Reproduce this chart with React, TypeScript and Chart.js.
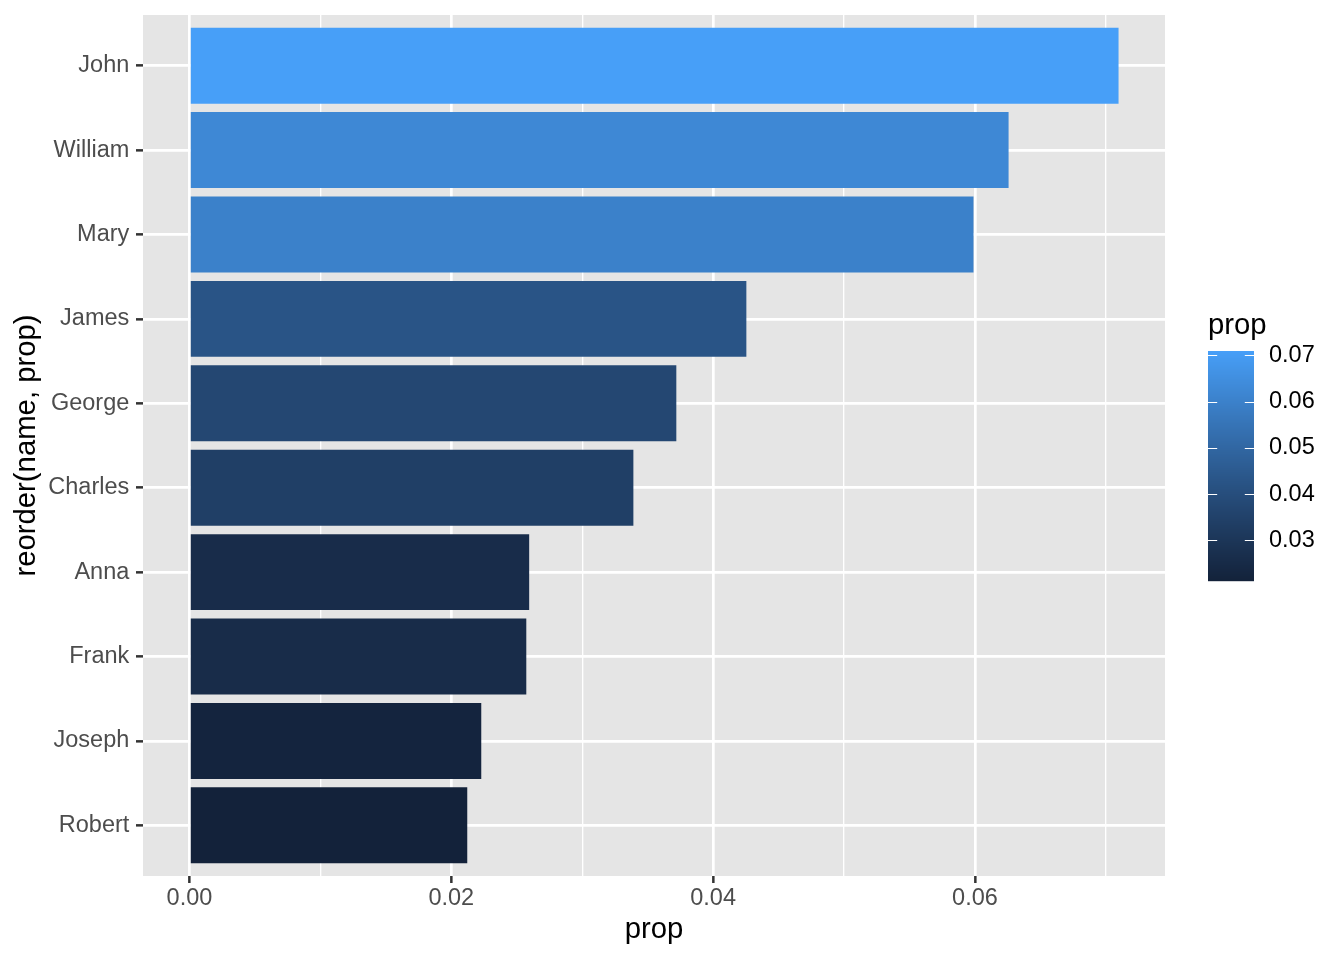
import React, { useEffect, useRef } from "react";
import { Chart, registerables } from "chart.js";

Chart.register(...registerables);

// ---- data (bottom to top) ----
const names = ["Robert", "Joseph", "Frank", "Anna", "Charles", "George", "James", "Mary", "William", "John"];
const props = [0.02122, 0.02229, 0.02573, 0.02595, 0.03391, 0.03719, 0.04254, 0.05989, 0.06257, 0.07097];
const xTicks = [0, 0.01, 0.02, 0.03, 0.04, 0.05, 0.06, 0.07];
const legendTicks = [0.03, 0.04, 0.05, 0.06, 0.07];
const xTitle = "prop";
const yTitle = "reorder(name, prop)";
const legendTitle = "prop";

const LOW = "#13223A";
const HIGH = "#479FF8";
const FONT = "'Liberation Sans', Arial, Helvetica, sans-serif";

// ---- Lab colour interpolation (like ggplot's seq_gradient_pal) ----
function hexToRgb(h: string): number[] {
  const n = parseInt(h.slice(1), 16);
  return [(n >> 16) & 255, (n >> 8) & 255, n & 255];
}
function srgbToLin(c: number) {
  c /= 255;
  return c <= 0.04045 ? c / 12.92 : Math.pow((c + 0.055) / 1.055, 2.4);
}
function linToSrgb(c: number) {
  const v = c <= 0.0031308 ? 12.92 * c : 1.055 * Math.pow(Math.max(c, 0), 1 / 2.4) - 0.055;
  return Math.round(Math.max(0, Math.min(1, v)) * 255);
}
const Xn = 0.95047, Yn = 1, Zn = 1.08883;
const fLab = (t: number) => (t > 0.008856 ? Math.cbrt(t) : 7.787 * t + 16 / 116);
const fInv = (t: number) => (t > 0.206893 ? t * t * t : (t - 16 / 116) / 7.787);
function rgbToLab(rgb: number[]) {
  const [r, g, b] = rgb.map(srgbToLin);
  const X = 0.4124 * r + 0.3576 * g + 0.1805 * b;
  const Y = 0.2126 * r + 0.7152 * g + 0.0722 * b;
  const Z = 0.0193 * r + 0.1192 * g + 0.9505 * b;
  const fx = fLab(X / Xn), fy = fLab(Y / Yn), fz = fLab(Z / Zn);
  return [116 * fy - 16, 500 * (fx - fy), 200 * (fy - fz)];
}
function labToCss(lab: number[]) {
  const [L, a, b] = lab;
  const fy = (L + 16) / 116, fx = fy + a / 500, fz = fy - b / 200;
  const X = Xn * fInv(fx), Y = Yn * fInv(fy), Z = Zn * fInv(fz);
  const r = 3.2406 * X - 1.5372 * Y - 0.4986 * Z;
  const g = -0.9689 * X + 1.8758 * Y + 0.0415 * Z;
  const bb = 0.0557 * X - 0.204 * Y + 1.057 * Z;
  return `rgb(${linToSrgb(r)},${linToSrgb(g)},${linToSrgb(bb)})`;
}
const labLow = rgbToLab(hexToRgb(LOW));
const labHigh = rgbToLab(hexToRgb(HIGH));
const vMin = Math.min(...props);
const vMax = Math.max(...props);
function colorFor(v: number) {
  const t = Math.max(0, Math.min(1, (v - vMin) / (vMax - vMin)));
  return labToCss(labLow.map((c, i) => c + (labHigh[i] - c) * t));
}

const xMin = -0.05 * vMax;
const xMax = vMax * 1.05;
const isMajor = (v: number) => Math.abs(v / 0.02 - Math.round(v / 0.02)) < 1e-6;

const bgPlugin = {
  id: "panelBg",
  beforeDraw(chart: any) {
    const { ctx, chartArea: a, width, height } = chart;
    ctx.save();
    ctx.fillStyle = "#FFFFFF";
    ctx.fillRect(0, 0, width, height);
    ctx.fillStyle = "#E5E5E5";
    ctx.fillRect(a.left, a.top, a.right - a.left, a.bottom - a.top);
    ctx.restore();
  },
};

const colorbarPlugin = {
  id: "colorbar",
  afterDraw(chart: any) {
    const ctx = chart.ctx as CanvasRenderingContext2D;
    const left = 1208, right = 1254, top = 351, bottom = 581;
    const h = bottom - top;
    const yFor = (v: number) => bottom - ((v - vMin) / (vMax - vMin)) * h;
    ctx.save();
    for (let i = 0; i < h; i++) {
      const v = vMin + ((h - i - 0.5) / h) * (vMax - vMin);
      ctx.fillStyle = colorFor(v);
      ctx.fillRect(left, top + i, right - left, 1.2);
    }
    ctx.strokeStyle = "#FFFFFF";
    ctx.lineWidth = 1;
    const tl = (right - left) / 5;
    legendTicks.forEach((v) => {
      const y = Math.round(yFor(v)) + 0.5;
      ctx.beginPath();
      ctx.moveTo(left, y);
      ctx.lineTo(left + tl, y);
      ctx.moveTo(right - tl, y);
      ctx.lineTo(right, y);
      ctx.stroke();
    });
    ctx.fillStyle = "#000000";
    ctx.font = `23.5px ${FONT}`;
    ctx.textAlign = "left";
    ctx.textBaseline = "middle";
    legendTicks.forEach((v) => {
      ctx.fillText(v.toFixed(2), 1269, yFor(v));
    });
    ctx.font = `29.3px ${FONT}`;
    ctx.textBaseline = "alphabetic";
    ctx.fillText(legendTitle, 1208, 334);
    ctx.restore();
  },
};

export default function App() {
  const ref = useRef<HTMLCanvasElement | null>(null);
  useEffect(() => {
    if (!ref.current) return;
    const chart = new Chart(ref.current, {
      type: "bar",
      data: {
        datasets: [
          {
            data: props.map((v, i) => ({ x: v, y: i + 1 })) as any,
            backgroundColor: props.map(colorFor),
            borderWidth: 0,
            inflateAmount: 0,
            barPercentage: 0.9,
            categoryPercentage: 1,
          },
        ],
      },
      options: {
        responsive: false,
        animation: false,
        indexAxis: "y",
        layout: { padding: { top: 15, right: 179, bottom: 0, left: 0 } },
        plugins: { legend: { display: false }, tooltip: { enabled: false } },
        scales: {
          x: {
            type: "linear",
            min: xMin,
            max: xMax,
            offset: false,
            afterBuildTicks: (s: any) => {
              s.ticks = xTicks.map((v) => ({ value: v }));
            },
            afterFit: (s: any) => {
              s.height = 84;
              s.paddingLeft = 0;
              s.paddingRight = 0;
            },
            grid: {
              offset: false,
              color: "#FFFFFF",
              lineWidth: (c: any) => (c.tick && isMajor(c.tick.value) ? 2.7 : 1.35),
              tickColor: (c: any) => (c.tick && isMajor(c.tick.value) ? "#333333" : "rgba(0,0,0,0)"),
              tickLength: 7,
              tickWidth: 2.5,
            },
            border: { display: false },
            ticks: {
              autoSkip: false,
              maxRotation: 0,
              padding: 1.5,
              color: "#4D4D4D",
              font: { family: FONT, size: 23.5 },
              callback: (v: any) => (isMajor(Number(v)) ? Number(v).toFixed(2) : ""),
            },
            title: {
              display: true,
              text: xTitle,
              color: "#000000",
              font: { family: FONT, size: 29.3 },
              padding: { top: 0, bottom: 12.5 },
            },
          },
          y: {
            type: "linear",
            min: 0.4,
            max: 10.6,
            offset: false,
            afterBuildTicks: (s: any) => {
              s.ticks = names.map((_, i) => ({ value: i + 1 }));
            },
            afterFit: (s: any) => {
              s.width = 143;
              s.paddingTop = 0;
              s.paddingBottom = 0;
            },
            grid: {
              offset: false,
              color: "#FFFFFF",
              lineWidth: 2.7,
              tickColor: "#333333",
              tickLength: 7,
              tickWidth: 2.5,
            },
            border: { display: false },
            ticks: {
              autoSkip: false,
              padding: 6.7,
              color: "#4D4D4D",
              font: { family: FONT, size: 23.5 },
              callback: (v: any) => names[Math.round(Number(v)) - 1] ?? "",
            },
            title: {
              display: true,
              text: yTitle,
              color: "#000000",
              font: { family: FONT, size: 29.3 },
              padding: { top: 9.2, bottom: 0 },
            },
          },
        },
      } as any,
      plugins: [bgPlugin, colorbarPlugin],
    });
    return () => chart.destroy();
  }, []);
  return (
    <div style={{ position: "absolute", left: 0, top: 0, width: 1344, height: 960 }}>
      <canvas ref={ref} width={1344} height={960} style={{ width: 1344, height: 960, display: "block" }} />
    </div>
  );
}
